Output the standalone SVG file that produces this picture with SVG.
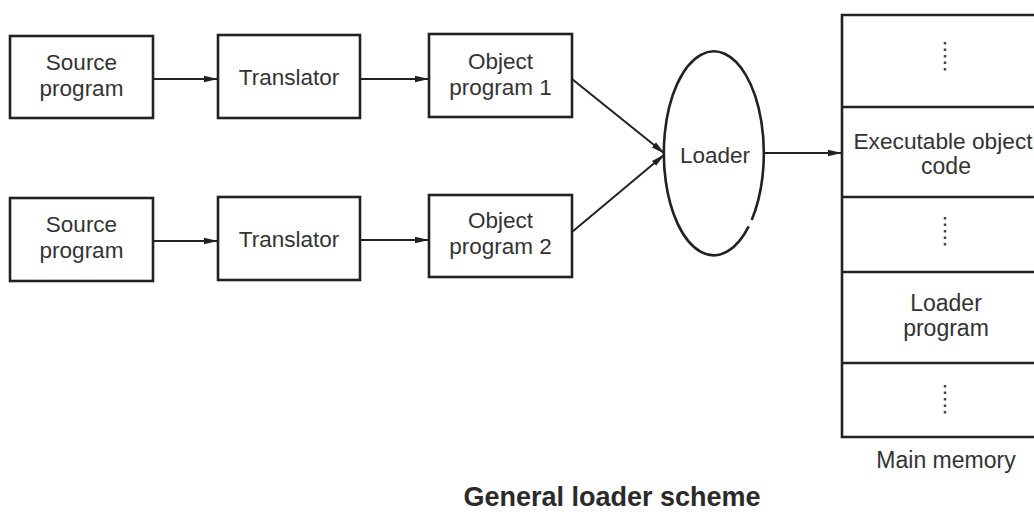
<svg xmlns="http://www.w3.org/2000/svg" width="1034" height="518" viewBox="0 0 1034 518">
<style>
.box{fill:none;stroke:#222;stroke-width:2.6}
.t{font-family:"Liberation Sans",Arial,sans-serif;font-size:22.5px;fill:#333;text-anchor:middle}
.m{font-size:23px}
.title{font-family:"Liberation Sans",Arial,sans-serif;font-size:27px;font-weight:bold;fill:#2a2a2a;text-anchor:middle}
.ln{fill:none;stroke:#222;stroke-width:2}
.dots{stroke:#444;stroke-width:2.5;stroke-dasharray:2.5 4}
</style>
<defs>
<marker id="ah" viewBox="0 0 14 8" refX="13" refY="4" markerWidth="14" markerHeight="8" markerUnits="userSpaceOnUse" orient="auto">
<path d="M0,0.8 L14,4 L0,7.2 z" fill="#222"/>
</marker>
</defs>
<rect width="1034" height="518" fill="#fff"/>
<g id="source1"><rect class="box" x="10" y="36" width="143" height="82"/><text class="t" x="81.5" y="70">Source</text><text class="t" x="81.5" y="96">program</text></g>
<g id="translator1"><rect class="box" x="218" y="35" width="142" height="83"/><text class="t" x="289" y="85">Translator</text></g>
<g id="object1"><rect class="box" x="429" y="34" width="143" height="83"/><text class="t" x="500.5" y="69">Object</text><text class="t" x="500.5" y="95">program 1</text></g>
<g id="source2"><rect class="box" x="10" y="198" width="143" height="83"/><text class="t" x="81.5" y="232">Source</text><text class="t" x="81.5" y="258">program</text></g>
<g id="translator2"><rect class="box" x="218" y="197" width="142" height="83"/><text class="t" x="289" y="247">Translator</text></g>
<g id="object2"><rect class="box" x="429" y="195" width="143" height="82"/><text class="t" x="500.5" y="228">Object</text><text class="t" x="500.5" y="254">program 2</text></g>
<g id="loader"><path class="box" d="M748.7,226.4 A50,102 0 1 1 751.7,219.9"/><text class="t" x="715" y="163">Loader</text></g>
<g id="memory">
<path class="box" d="M1040,15 H842 V437 H1040"/>
<path class="box" d="M842,107 H1040 M842,197 H1040 M842,272 H1040 M842,363 H1040"/>
<path class="dots" d="M945,42 V72 M945,217 V247 M945,385 V415"/>
<text class="t" x="943" y="149" style="font-size:22.7px">Executable object</text><text class="t m" x="946" y="174">code</text>
<text class="t m" x="946" y="311">Loader</text><text class="t m" x="946" y="336">program</text>
<text class="t m" x="946" y="468">Main memory</text>
</g>
<g id="connectors">
<line class="ln" x1="153" y1="79" x2="217" y2="79" marker-end="url(#ah)"/>
<line class="ln" x1="360" y1="79" x2="428" y2="79" marker-end="url(#ah)"/>
<line class="ln" x1="153" y1="241" x2="217" y2="241" marker-end="url(#ah)"/>
<line class="ln" x1="360" y1="240" x2="428" y2="240" marker-end="url(#ah)"/>
<line class="ln" x1="572" y1="79" x2="664" y2="153" marker-end="url(#ah)"/>
<line class="ln" x1="572" y1="232" x2="664" y2="155" marker-end="url(#ah)"/>
<line class="ln" x1="764.5" y1="153" x2="841" y2="153" marker-end="url(#ah)"/>
</g>
<text class="title" x="612" y="506">General loader scheme</text>
</svg>
